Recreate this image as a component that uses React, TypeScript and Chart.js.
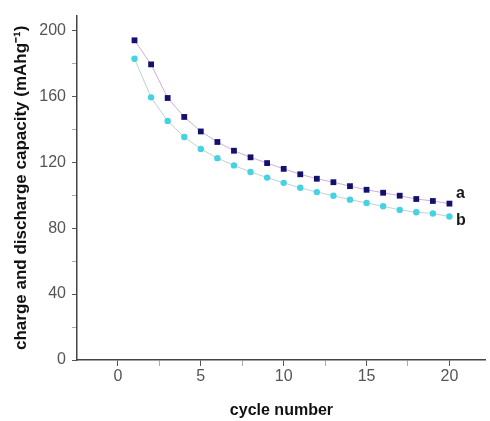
import React, { useEffect, useRef } from "react";
import { Chart, registerables } from "chart.js";

Chart.register(...registerables);

const cycles = [1, 2, 3, 4, 5, 6, 7, 8, 9, 10, 11, 12, 13, 14, 15, 16, 17, 18, 19, 20];
const seriesA = [194, 179.4, 159, 147.5, 138.7, 132.3, 127, 123, 119.5, 116, 112.7, 110, 107.9, 105.5, 103.3, 101.5, 99.7, 97.7, 96.5, 94.9];
const seriesB = [182.8, 159.4, 145, 135.3, 128.1, 122.5, 118.1, 114.1, 110.7, 107.5, 104.5, 101.9, 99.7, 97.3, 95.3, 93.3, 91.1, 89.7, 88.9, 87.1];
const curveLabels = [
  { text: "a", x: 20.4, y: 101 },
  { text: "b", x: 20.4, y: 84.7 },
];

const labelPlugin = {
  id: "curveLabels",
  afterDatasetsDraw(chart: any) {
    const { ctx, scales } = chart;
    ctx.save();
    ctx.font = "bold 16px 'Liberation Sans', Arial, sans-serif";
    ctx.fillStyle = "#1a1a1a";
    ctx.textAlign = "left";
    ctx.textBaseline = "middle";
    for (const l of curveLabels) {
      ctx.fillText(l.text, scales.x.getPixelForValue(l.x), scales.y.getPixelForValue(l.y));
    }
    ctx.restore();
  },
};

export default function App() {
  const ref = useRef<HTMLCanvasElement>(null);
  useEffect(() => {
    if (!ref.current) return;
    const tickFont = { family: "'Liberation Sans', Arial, sans-serif", size: 16 };
    const titleFont = { family: "'Liberation Sans', Arial, sans-serif", size: 16, weight: "bold" as const };
    const yTitleFont = { family: "'Liberation Sans', Arial, sans-serif", size: 17, weight: "bold" as const };
    const chart = new Chart(ref.current, {
      type: "line",
      data: {
        datasets: [
          {
            label: "a",
            data: cycles.map((c, i) => ({ x: c, y: seriesA[i] })),
            borderColor: "rgba(200,150,210,0.8)",
            borderWidth: 1,
            pointStyle: "rect",
            pointRadius: 4.1,
            pointBackgroundColor: "#14106e",
            pointBorderColor: "#14106e",
            pointBorderWidth: 0,
            tension: 0,
            clip: false as any,
          },
          {
            label: "b",
            data: cycles.map((c, i) => ({ x: c, y: seriesB[i] })),
            borderColor: "rgba(170,200,200,0.8)",
            borderWidth: 1,
            pointStyle: "circle",
            pointRadius: 3.2,
            pointBackgroundColor: "#45d2e2",
            pointBorderColor: "#45d2e2",
            pointBorderWidth: 0,
            tension: 0,
            clip: false as any,
          },
        ],
      },
      options: {
        animation: false,
        responsive: false,
        layout: { padding: { top: 12, left: 0, right: 0, bottom: 0 } },
        plugins: { legend: { display: false }, tooltip: { enabled: false } },
        scales: {
          x: {
            type: "linear",
            min: -2.47,
            max: 22.2,
            afterFit: (s: any) => { s.height = 61; },
            ticks: {
              stepSize: 2.5,
              includeBounds: false,
              autoSkip: false,
              maxRotation: 0,
              font: tickFont,
              color: "#555",
              padding: 1,
              callback: (v: any) => (Number(v) % 5 === 0 ? String(v) : ""),
            },
            grid: {
              drawOnChartArea: false,
              drawTicks: true,
              tickLength: 6,
              tickColor: (c: any) => (c.tick && c.tick.value % 5 === 0 ? "#555" : "#aaa"),
            },
            border: { display: true, color: "#444", width: 1.5 },
            title: { display: true, text: "cycle number", font: titleFont, color: "#111", padding: { top: 0, bottom: 1 } },
          },
          y: {
            type: "linear",
            min: 0,
            max: 209,
            afterFit: (s: any) => { s.width = 77; },
            ticks: {
              stepSize: 20,
              includeBounds: false,
              autoSkip: false,
              font: tickFont,
              color: "#555",
              padding: 6,
              callback: (v: any) => (Number(v) % 40 === 0 ? String(v) : ""),
            },
            grid: {
              drawOnChartArea: false,
              drawTicks: true,
              tickLength: 5,
              tickColor: (c: any) => (c.tick && c.tick.value % 40 === 0 ? "#555" : "#aaa"),
            },
            border: { display: true, color: "#444", width: 1.5 },
            title: {
              display: true,
              text: "charge and discharge capacity (mAhg\u207B\u00B9)",
              font: yTitleFont,
              color: "#111",
              padding: { top: 11, bottom: 0 },
            },
          },
        },
      },
      plugins: [labelPlugin],
    });
    return () => chart.destroy();
  }, []);
  return (
    <div style={{ position: "fixed", left: 0, top: 0, width: 490, height: 421, background: "#fff" }}>
      <canvas ref={ref} width={490} height={421} />
    </div>
  );
}
